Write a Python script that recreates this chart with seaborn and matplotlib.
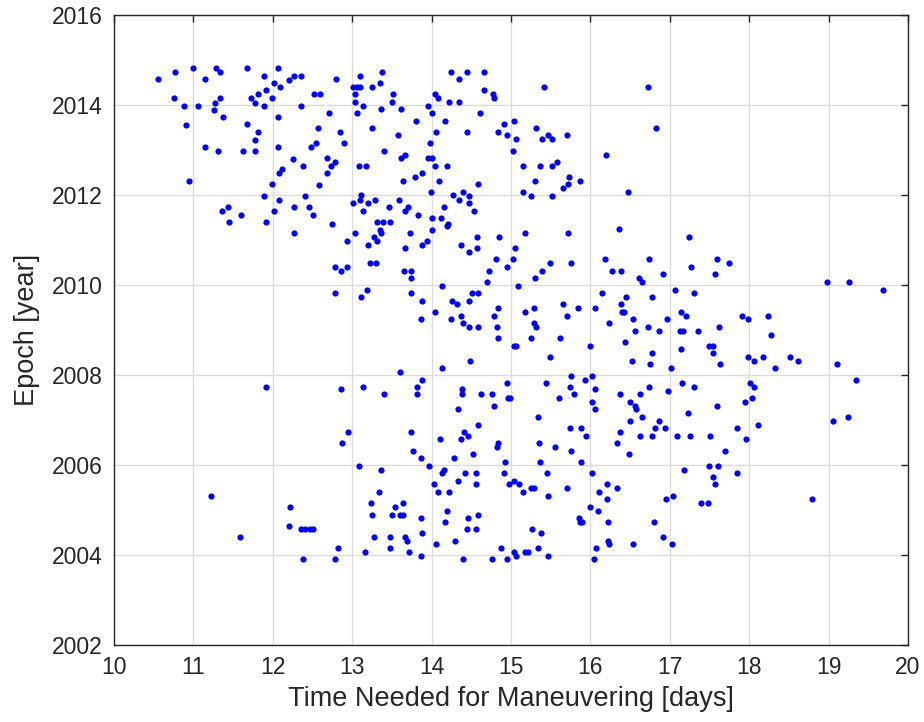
import numpy as np
import pandas as pd
import matplotlib
matplotlib.use("Agg")
import matplotlib.pyplot as plt
import seaborn as sns

# (days, epoch) pairs, grouped by epoch band
upper_band = [
    (10.56, 2014.57), (10.77, 2014.74), (11.00, 2014.82), (11.29, 2014.82), (11.34, 2014.73),
    (11.15, 2014.57), (11.68, 2014.82), (11.89, 2014.65), (12.07, 2014.82), (12.02, 2014.48),
    (12.09, 2014.39), (12.20, 2014.56), (12.27, 2014.64), (12.36, 2014.64), (10.75, 2014.15),
    (10.88, 2013.98), (11.06, 2013.98), (11.27, 2014.05), (11.34, 2014.15), (11.26, 2013.90),
    (11.73, 2014.16), (11.81, 2014.24), (11.78, 2014.05), (11.91, 2014.33), (11.99, 2014.15),
    (11.89, 2013.98), (12.36, 2013.98), (12.52, 2014.24), (11.37, 2013.73), (12.06, 2013.73),
    (10.91, 2013.56), (11.68, 2013.57), (11.81, 2013.39), (11.78, 2013.22), (12.57, 2013.50),
    (11.15, 2013.07), (11.31, 2012.98), (11.63, 2012.98), (11.78, 2012.98), (12.06, 2013.07),
    (12.48, 2013.06), (12.54, 2013.15), (12.26, 2012.81), (12.38, 2012.65), (12.12, 2012.57),
    (12.08, 2012.48), (10.95, 2012.31), (11.99, 2012.24), (12.58, 2012.22), (11.89, 2011.98),
    (12.08, 2011.90), (12.41, 2011.98), (12.27, 2011.73), (12.46, 2011.73), (12.51, 2011.56),
    (11.36, 2011.64), (11.44, 2011.73), (11.60, 2011.56), (11.45, 2011.41), (11.91, 2011.41),
    (12.02, 2011.64),
    (12.80, 2014.57), (13.10, 2014.64), (13.37, 2014.73), (13.35, 2014.48), (13.25, 2014.39),
    (13.01, 2014.39), (13.06, 2014.39), (13.10, 2014.39), (13.04, 2014.24), (12.60, 2014.24),
    (13.51, 2014.24), (13.04, 2014.07), (13.50, 2014.07), (13.14, 2013.98), (13.36, 2013.91),
    (13.62, 2013.91), (13.06, 2013.82), (12.71, 2013.82), (13.80, 2013.65), (12.84, 2013.41),
    (13.25, 2013.50), (13.58, 2013.33), (12.90, 2013.15), (13.40, 2012.98), (12.68, 2012.82),
    (12.73, 2012.65), (12.78, 2012.74), (13.08, 2012.65), (13.17, 2012.65), (13.61, 2012.82),
    (13.66, 2012.89), (12.68, 2012.48), (13.64, 2012.32), (13.79, 2012.40), (13.88, 2012.48),
    (13.01, 2011.82), (13.10, 2011.90), (13.11, 2012.00), (13.20, 2011.82), (13.29, 2011.90),
    (13.14, 2011.65), (13.46, 2011.73), (13.59, 2011.90), (13.67, 2011.65), (13.70, 2011.73),
    (13.83, 2011.56), (13.31, 2011.41), (13.39, 2011.41), (13.48, 2011.41), (12.75, 2011.35),
    (14.24, 2014.73), (14.44, 2014.73), (14.66, 2014.73), (14.35, 2014.57), (14.04, 2014.24),
    (14.08, 2014.16), (14.22, 2014.07), (14.35, 2014.07), (14.66, 2014.33), (14.77, 2014.24),
    (14.78, 2014.16), (13.95, 2013.98), (14.01, 2013.82), (14.17, 2013.65), (14.61, 2013.82),
    (14.06, 2013.41), (14.45, 2013.41), (14.91, 2013.57), (14.84, 2013.41), (14.95, 2013.33),
    (15.04, 2013.65), (15.03, 2012.98), (13.98, 2013.15), (13.95, 2012.82), (14.00, 2012.82),
    (14.04, 2012.65), (14.19, 2012.65), (14.09, 2012.32), (14.58, 2012.24), (13.99, 2012.07),
    (14.27, 2012.00), (14.34, 2011.90), (14.39, 2012.07), (14.47, 2011.98), (14.47, 2011.82),
    (14.53, 2011.65), (14.15, 2011.73), (14.00, 2011.48), (14.12, 2011.48), (14.21, 2011.35),
    (15.41, 2014.39), (16.73, 2014.39), (15.32, 2013.50), (15.06, 2013.24), (15.39, 2013.24),
    (15.47, 2013.33), (15.52, 2013.24), (15.71, 2013.33), (15.15, 2012.65), (15.37, 2012.65),
    (15.52, 2012.65), (15.58, 2012.74), (15.30, 2012.32), (15.73, 2012.40), (15.72, 2012.24),
    (15.65, 2012.15), (15.87, 2012.32), (15.15, 2012.07), (15.25, 2011.98), (15.51, 2011.98),
    (16.83, 2013.48), (16.19, 2012.90), (16.47, 2012.07),
]

middle_band = [
    (12.27, 2011.15), (11.92, 2007.74),
    (13.04, 2011.15), (12.93, 2010.98), (13.20, 2010.89), (13.27, 2011.06), (13.31, 2010.98),
    (13.35, 2011.22), (13.36, 2011.15), (13.73, 2011.15), (13.66, 2010.82), (13.88, 2010.89),
    (13.94, 2010.98), (14.00, 2011.22), (14.20, 2011.32), (12.78, 2010.41), (12.86, 2010.31),
    (12.93, 2010.41), (13.22, 2010.48), (13.30, 2010.48), (13.65, 2010.31), (13.74, 2010.31),
    (13.74, 2010.15), (12.78, 2009.82), (13.18, 2009.90), (13.11, 2009.74), (13.74, 2009.82),
    (13.88, 2009.65), (13.86, 2009.24), (14.04, 2009.41), (14.13, 2009.98), (14.37, 2010.89),
    (14.47, 2010.73), (14.57, 2011.06), (14.57, 2010.82), (14.85, 2011.06), (14.81, 2010.57),
    (14.95, 2010.41), (14.72, 2010.31), (14.70, 2010.06), (14.26, 2009.65), (14.32, 2009.57),
    (14.47, 2009.65), (14.51, 2009.82), (14.58, 2009.82), (14.83, 2009.48), (14.79, 2009.32),
    (14.37, 2009.32), (14.24, 2009.24), (14.39, 2009.15), (14.47, 2009.06), (14.58, 2009.06),
    (14.82, 2009.06), (14.83, 2008.82), (15.04, 2008.65), (14.48, 2008.31), (14.13, 2008.15),
    (13.60, 2008.06), (13.88, 2007.89), (13.82, 2007.74), (13.13, 2007.74), (12.86, 2007.68),
    (14.38, 2007.68), (14.95, 2007.82),
    (15.18, 2011.15), (15.72, 2011.15), (16.36, 2011.24), (17.24, 2011.06), (15.05, 2010.82),
    (15.03, 2010.57), (15.49, 2010.48), (15.39, 2010.31), (15.30, 2010.15), (15.75, 2010.48),
    (16.18, 2010.57), (16.27, 2010.31), (16.38, 2010.31), (16.74, 2010.57), (16.61, 2010.15),
    (16.65, 2010.06), (16.91, 2010.24), (17.27, 2010.39), (15.09, 2009.98), (15.17, 2009.41),
    (15.29, 2009.48), (15.65, 2009.57), (15.71, 2009.32), (15.84, 2009.48), (16.06, 2009.48),
    (16.15, 2009.82), (16.45, 2009.74), (16.38, 2009.57), (16.40, 2009.41), (16.42, 2009.41),
    (16.77, 2009.73), (17.07, 2009.90), (17.30, 2009.82), (15.29, 2009.15), (15.31, 2009.07),
    (16.54, 2009.24), (16.96, 2009.24), (16.23, 2009.15), (16.72, 2009.06), (16.56, 2008.98),
    (16.86, 2008.98), (17.14, 2009.41), (17.20, 2009.32), (17.13, 2008.98), (17.16, 2008.98),
    (17.35, 2008.98), (15.25, 2008.82), (15.62, 2008.82), (16.43, 2008.73), (15.06, 2008.65),
    (16.00, 2008.65), (17.49, 2008.65), (15.49, 2008.41), (16.77, 2008.48), (16.53, 2008.32),
    (16.75, 2008.24), (17.14, 2008.57), (17.01, 2008.15), (15.75, 2007.98), (16.02, 2007.98),
    (15.93, 2007.89), (15.44, 2007.82), (15.74, 2007.74), (16.06, 2007.68), (16.74, 2007.74),
    (17.15, 2007.82), (17.30, 2007.74),
    (17.59, 2010.57), (17.75, 2010.48), (17.57, 2010.24), (18.98, 2010.06), (19.26, 2010.06),
    (19.69, 2009.90), (17.91, 2009.32), (17.99, 2009.24), (18.24, 2009.32), (17.62, 2009.06),
    (18.27, 2008.90), (17.55, 2008.65), (17.55, 2008.48), (17.63, 2008.24), (17.98, 2008.41),
    (18.06, 2008.32), (18.17, 2008.41), (18.51, 2008.41), (18.61, 2008.32), (18.33, 2008.15),
    (19.11, 2008.24), (19.35, 2007.90), (18.01, 2007.82), (18.06, 2007.74),
]

lower_band = [
    (11.22, 2005.32), (11.59, 2004.39), (12.22, 2005.07), (12.20, 2004.65), (12.36, 2004.57),
    (12.41, 2004.57), (12.47, 2004.57), (12.51, 2004.57), (12.38, 2003.91),
    (13.40, 2007.57), (13.81, 2007.57), (14.38, 2007.57), (14.62, 2007.57), (14.76, 2007.57),
    (14.96, 2007.48), (14.99, 2007.48), (14.33, 2007.24), (14.79, 2007.32), (14.58, 2006.90),
    (13.74, 2006.74), (12.95, 2006.74), (12.87, 2006.48), (14.11, 2006.57), (14.37, 2006.57),
    (14.41, 2006.74), (14.46, 2006.64), (13.76, 2006.32), (13.86, 2006.16), (14.52, 2006.24),
    (14.28, 2006.16), (14.82, 2006.41), (14.84, 2006.48), (14.92, 2006.07), (13.08, 2005.98),
    (13.36, 2005.90), (13.97, 2005.98), (14.15, 2005.90), (14.13, 2005.82), (14.42, 2005.82),
    (14.56, 2005.82), (14.91, 2005.82), (14.33, 2005.65), (14.56, 2005.58), (14.98, 2005.57),
    (15.04, 2005.65), (14.03, 2005.57), (14.08, 2005.39), (14.22, 2005.39), (13.34, 2005.39),
    (13.24, 2005.15), (13.25, 2004.90), (13.54, 2005.07), (13.64, 2005.15), (13.50, 2004.90),
    (13.60, 2004.90), (13.64, 2004.90), (13.87, 2004.82), (14.20, 2004.98), (14.17, 2004.74),
    (14.46, 2004.82), (14.58, 2004.90), (14.45, 2004.57), (14.56, 2004.57), (13.88, 2004.50),
    (13.27, 2004.41), (13.48, 2004.41), (13.66, 2004.41), (13.69, 2004.31), (14.29, 2004.32),
    (14.06, 2004.24), (13.48, 2004.15), (13.72, 2004.07), (13.87, 2003.98), (13.16, 2004.07),
    (12.82, 2004.15), (12.78, 2003.91), (14.87, 2004.15), (15.04, 2004.07), (14.39, 2003.91),
    (14.76, 2003.91), (14.95, 2003.91),
    (15.79, 2007.57), (15.60, 2007.48), (16.02, 2007.39), (16.06, 2007.24), (16.37, 2007.57),
    (16.62, 2007.57), (16.98, 2007.65), (16.50, 2007.41), (16.56, 2007.31), (16.57, 2007.24),
    (15.34, 2007.06), (16.50, 2006.98), (16.65, 2007.06), (16.86, 2006.98), (17.23, 2007.15),
    (15.74, 2006.82), (15.88, 2006.82), (15.94, 2006.64), (16.37, 2006.74), (16.34, 2006.48),
    (16.62, 2006.64), (16.77, 2006.64), (16.81, 2006.82), (16.94, 2006.82), (17.09, 2006.64),
    (17.25, 2006.64), (17.50, 2006.64), (15.35, 2006.48), (15.56, 2006.39), (15.76, 2006.32),
    (16.49, 2006.24), (15.37, 2006.06), (15.88, 2006.06), (15.45, 2005.82), (16.02, 2005.82),
    (17.18, 2005.90), (17.49, 2005.98), (15.10, 2005.57), (15.15, 2005.41), (15.25, 2005.48),
    (15.29, 2005.48), (15.47, 2005.32), (15.70, 2005.48), (16.21, 2005.57), (16.34, 2005.48),
    (16.11, 2005.41), (16.21, 2005.24), (16.00, 2005.07), (16.10, 2004.98), (15.85, 2004.82),
    (15.87, 2004.74), (15.90, 2004.74), (16.22, 2004.74), (16.95, 2005.24), (17.04, 2005.32),
    (16.80, 2004.74), (17.39, 2005.15), (17.48, 2005.15), (15.26, 2004.57), (15.38, 2004.48),
    (16.22, 2004.32), (16.24, 2004.24), (16.91, 2004.39), (17.03, 2004.24), (16.54, 2004.24),
    (15.34, 2004.15), (16.07, 2004.15), (15.06, 2003.98), (15.18, 2004.07), (15.22, 2004.07),
    (15.46, 2003.98), (16.05, 2003.91),
    (17.95, 2007.41), (18.04, 2007.48), (17.60, 2007.32), (18.11, 2006.90), (17.85, 2006.82),
    (17.96, 2006.57), (17.70, 2006.32), (17.61, 2005.98), (17.85, 2005.82), (17.55, 2005.74),
    (17.57, 2005.57), (19.06, 2006.98), (19.25, 2007.06), (18.79, 2005.24),
]

x_ticks = list(range(10, 21))
y_ticks = list(range(2002, 2017, 2))
x_label = "Time Needed for Maneuvering [days]"
y_label = "Epoch [year]"

points = np.array(upper_band + middle_band + lower_band)
df = pd.DataFrame({"days": points[:, 0], "epoch": points[:, 1]})

sns.set_style("white")
plt.rcParams["font.family"] = ["Liberation Sans", "DejaVu Sans"]

fig = plt.figure(figsize=(9.24, 7.22), dpi=100)
ax = fig.add_axes([0.1234, 0.1066, 0.8593, 0.8726])

sns.scatterplot(data=df, x="days", y="epoch", ax=ax, color="#0000ff",
                s=20, linewidth=0, marker="o", zorder=3)

ax.set_xlim(10, 20)
ax.set_ylim(2002, 2016)
ax.set_xticks(x_ticks)
ax.set_yticks(y_ticks)
ax.grid(True, color="#dcdcdc", linewidth=1.0, zorder=0)
ax.set_axisbelow(True)

for side in ["left", "right", "top", "bottom"]:
    ax.spines[side].set_visible(True)
    ax.spines[side].set_color("#262626")
    ax.spines[side].set_linewidth(1.0)

ax.tick_params(axis="both", which="both", direction="in", length=5, width=1,
               top=True, right=True, labelsize=16.5, labelcolor="#262626",
               color="#262626", pad=8)

ax.set_xlabel(x_label, fontsize=19.5, color="#262626", labelpad=5)
ax.set_ylabel(y_label, fontsize=19.5, color="#262626", labelpad=9)

fig.savefig("out.png", dpi=100)
